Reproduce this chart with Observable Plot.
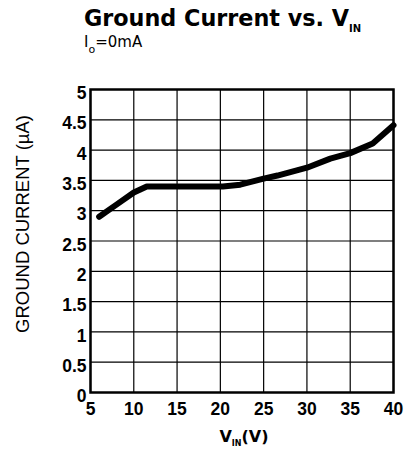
<!DOCTYPE html>
<html><head><meta charset="utf-8">
<script src="https://cdn.jsdelivr.net/npm/d3@7"></script>
<script src="https://cdn.jsdelivr.net/npm/@observablehq/plot@0.6"></script>
<style>body{margin:0;background:#fff;} svg{display:block;}</style>
</head><body><div id="chart"></div>
<script>
const vin = [6, 8, 10, 11.5, 14, 17, 20.3, 22.3, 25, 26.6, 30, 32.7, 35, 37.6, 40];
const current = [2.9, 3.1, 3.3, 3.4, 3.4, 3.4, 3.4, 3.43, 3.53, 3.58, 3.71, 3.86, 3.95, 4.11, 4.41];
const xTicks = [5, 10, 15, 20, 25, 30, 35, 40];
const yTicks = [0, 0.5, 1, 1.5, 2, 2.5, 3, 3.5, 4, 4.5, 5];
const yTickLabels = ["0", "0.5", "1", "1.5", "2", "2.5", "3", "3.5", "4", "4.5", "5"];

const data = vin.map((v, i) => ({v, c: current[i]}));
const font = "'Liberation Sans', Arial, sans-serif";
const wide = "'DejaVu Sans', sans-serif";

const plot = Plot.plot({
  width: 406, height: 453,
  marginLeft: 90, marginRight: 13, marginTop: 89, marginBottom: 61,
  style: {fontFamily: font, background: "#fff", color: "#000", overflow: "visible"},
  x: {domain: [5, 40], ticks: xTicks, label: null},
  y: {domain: [0, 5], ticks: yTicks, label: null},
  marks: [
    Plot.gridX(xTicks, {stroke: "#000", strokeOpacity: 1, strokeWidth: 1.2}),
    Plot.gridY(yTicks, {stroke: "#000", strokeOpacity: 1, strokeWidth: 1.2}),
    Plot.axisX(xTicks, {tickSize: 0, tickPadding: 10, label: null}),
    Plot.axisY(yTicks, {tickSize: 0, tickPadding: 4, dy: 4, label: null,
      tickFormat: (d) => yTickLabels[yTicks.indexOf(d)]}),
    Plot.frame({stroke: "#000", strokeWidth: 2.5}),
    Plot.line(data, {x: "v", y: "c", stroke: "#000", strokeWidth: 6, strokeLinejoin: "round"})
  ]
});
document.getElementById("chart").appendChild(plot);

const svg = d3.select(plot);
// tick labels: bold, larger
svg.selectAll("text")
  .attr("font-family", font).attr("font-weight", "bold").attr("font-size", 17.5)
  .style("font-weight", "bold").style("font-size", "17.5px");

// Title
const t = svg.append("text").attr("x", 84).attr("y", 26).attr("text-anchor", "start")
  .attr("font-family", wide).attr("font-weight", "bold").attr("font-size", 22.3).attr("fill", "#000");
t.append("tspan").text("Ground Current vs. V");
t.append("tspan").attr("font-size", 10).attr("dy", 6).text("IN");
// Subtitle
const s = svg.append("text").attr("x", 84).attr("y", 47).attr("text-anchor", "start")
  .attr("font-family", wide).attr("font-size", 15).attr("fill", "#000");
s.append("tspan").text("I");
s.append("tspan").attr("font-size", 11).attr("dy", 6).text("o");
s.append("tspan").attr("dy", -6).text("=0mA");
// Y label
svg.append("text").attr("transform", "translate(29,224) rotate(-90)")
  .attr("text-anchor", "middle").attr("font-family", font).attr("font-size", 18.5).attr("fill", "#000")
  .text("GROUND CURRENT (µA)");
// X label
const xl = svg.append("text").attr("x", 244).attr("y", 442).attr("text-anchor", "middle")
  .attr("font-family", wide).attr("font-weight", "bold").attr("font-size", 16).attr("fill", "#000");
xl.append("tspan").text("V");
xl.append("tspan").attr("font-size", 8).attr("dy", 4).text("IN");
xl.append("tspan").attr("dy", -4).text("(V)");
</script></body></html>
